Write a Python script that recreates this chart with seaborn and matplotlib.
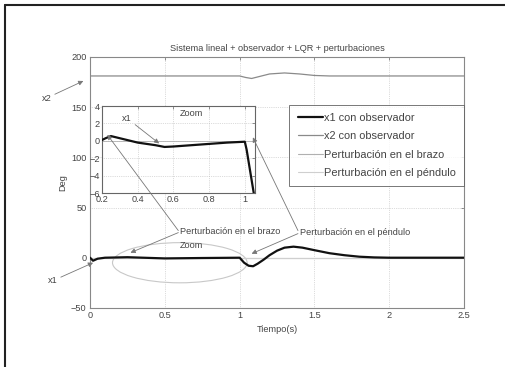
import matplotlib
matplotlib.use("Agg")
import matplotlib.pyplot as plt
import seaborn as sns
import pandas as pd
from matplotlib.patches import Ellipse, ConnectionPatch
from matplotlib.lines import Line2D

# ---- data ----
t_main = [0.0, 0.02, 0.05, 0.1, 0.25, 0.5, 0.75, 1.0, 1.03, 1.06, 1.09, 1.12,
          1.16, 1.2, 1.25, 1.3, 1.36, 1.42, 1.5, 1.6, 1.7, 1.8, 1.9, 2.0, 2.25, 2.5]
x1_main = [0.0, -3.0, -1.0, 0.0, 0.5, -0.7, -0.3, 0.0, -5.0, -8.0, -8.5, -6.0,
           -2.0, 2.5, 7.0, 10.0, 11.0, 10.0, 7.5, 4.5, 2.5, 1.0, 0.3, 0.0, 0.0, 0.0]
t_x2 = [0.0, 0.5, 1.0, 1.04, 1.08, 1.12, 1.2, 1.3, 1.4, 1.5, 1.6, 2.0, 2.5]
x2_main = [181, 181, 181, 179.5, 178.5, 180, 183, 184, 183, 181.5, 181, 181, 181]
t_pert = [0.0, 2.5]
pert_brazo = [0.0, 0.0]
pert_pendulo = [0.0, 0.0]

t_zoom = [0.2, 0.22, 0.25, 0.3, 0.4, 0.5, 0.55, 0.6, 0.7, 0.8, 0.9, 1.0,
          1.01, 1.03, 1.05]
x1_zoom = [0.1, 0.3, 0.55, 0.3, -0.2, -0.5, -0.7, -0.65, -0.5, -0.35, -0.2, -0.1,
           -1.0, -3.5, -6.0]

x_ticks = [0, 0.5, 1, 1.5, 2, 2.5]
y_ticks = [-50, 0, 50, 100, 150, 200]
xz_ticks = [0.2, 0.4, 0.6, 0.8, 1.0]
yz_ticks = [-6, -4, -2, 0, 2, 4]

title = "Sistema lineal + observador + LQR + perturbaciones"
labels = ["x1 con observador", "x2 con observador",
          "Perturbación en el brazo", "Perturbación en el péndulo"]

sns.set_style("white")
plt.rcParams["font.family"] = ["Liberation Sans", "DejaVu Sans"]
plt.rcParams["xtick.direction"] = "in"
plt.rcParams["ytick.direction"] = "in"

FS = 6.6
GRID = dict(color="#bbbbbb", linestyle=":", linewidth=0.5)
SPINE = "#888888"
TXT = "#444444"

fig = plt.figure(figsize=(5.06, 3.67), dpi=100)
fig.patch.set_facecolor("white")

ax = fig.add_axes([0.178, 0.161, 0.739, 0.684])
df1 = pd.DataFrame({"t": t_main, "v": x1_main})
df2 = pd.DataFrame({"t": t_x2, "v": x2_main})
dfb = pd.DataFrame({"t": t_pert, "v": pert_brazo})
dfp = pd.DataFrame({"t": t_pert, "v": pert_pendulo})
sns.lineplot(data=dfb, x="t", y="v", ax=ax, color="#b0b0b0", lw=0.8, label=labels[2], zorder=2)
sns.lineplot(data=dfp, x="t", y="v", ax=ax, color="#cfcfcf", lw=0.8, label=labels[3], zorder=2)
sns.lineplot(data=df2, x="t", y="v", ax=ax, color="#8a8a8a", lw=0.9, label=labels[1], zorder=3)
sns.lineplot(data=df1, x="t", y="v", ax=ax, color="#111111", lw=1.6, label=labels[0], zorder=4)

ax.set_xlim(0, 2.5)
ax.set_ylim(-50, 200)
ax.set_xticks(x_ticks)
ax.set_xticklabels(["0", "0.5", "1", "1.5", "2", "2.5"])
ax.set_yticks(y_ticks)
ax.grid(True, **GRID)
ax.tick_params(labelsize=FS, colors="#666666", labelcolor=TXT, length=2.5,
               width=0.5, top=True, right=True, pad=2.5)
for s in ax.spines.values():
    s.set_color(SPINE)
    s.set_linewidth(0.8)
ax.set_title(title, fontsize=FS, color=TXT, pad=4)
ax.set_xlabel("Tiempo(s)", fontsize=FS, color=TXT, labelpad=3)
ax.set_ylabel("Deg", fontsize=FS, color=TXT, labelpad=3)

handles, labs = ax.get_legend_handles_labels()
order = [labs.index(l) for l in labels]
leg = ax.legend([handles[i] for i in order], [labs[i] for i in order],
                loc="upper right", bbox_to_anchor=(1.0, 0.809), borderaxespad=0,
                fontsize=7.9, frameon=True, fancybox=False, handlelength=2.3,
                handletextpad=0.1, labelspacing=0.75, borderpad=0.75)
leg.get_frame().set_edgecolor("#555555")
leg.get_frame().set_linewidth(0.7)
for txt in leg.get_texts():
    txt.set_color(TXT)

# ellipse marking the zoom region
ax.add_patch(Ellipse((0.6, -5), 0.9, 40, fill=False, edgecolor="#c8c8c8", lw=0.8, zorder=1))
ax.text(0.675, 12, "Zoom", fontsize=FS, color=TXT, ha="center", va="center")

# ---- inset ----
axz = fig.add_axes([0.2016, 0.474, 0.302, 0.237])
dfz = pd.DataFrame({"t": t_zoom, "v": x1_zoom})
axz.axhline(0, color="#b0b0b0", lw=0.6, zorder=1)
sns.lineplot(data=dfz, x="t", y="v", ax=axz, color="#111111", lw=1.6, zorder=3)
axz.set_xlim(0.2, 1.056)
axz.set_ylim(-6, 4)
axz.set_xticks(xz_ticks)
axz.set_xticklabels(["0.2", "0.4", "0.6", "0.8", "1"])
axz.set_yticks(yz_ticks)
axz.set_xlabel("")
axz.set_ylabel("")
axz.grid(True, **GRID)
axz.tick_params(labelsize=FS, colors="#666666", labelcolor=TXT, length=2,
                width=0.5, top=True, right=True, pad=1.5)
for s in axz.spines.values():
    s.set_color("#666666")
    s.set_linewidth(0.8)
axz.text(0.70, 3.2, "Zoom", fontsize=FS, color=TXT, ha="center", va="center")

AP = dict(arrowstyle="-|>", color="#777777", lw=0.6, mutation_scale=7,
          shrinkA=0, shrinkB=0)
axz.annotate("x1", xy=(0.52, -0.3), xytext=(0.34, 2.6), fontsize=FS,
             color=TXT, ha="center", va="center", arrowprops=AP)

# main annotations
ax.annotate("x2", xy=(-0.045, 176), xytext=(-0.29, 159), fontsize=FS,
            color=TXT, ha="center", va="center", annotation_clip=False,
            arrowprops=AP)
ax.annotate("x1", xy=(0.02, -5), xytext=(-0.25, -23), fontsize=FS,
            color=TXT, ha="center", va="center", annotation_clip=False,
            arrowprops=AP)

# perturbation labels with two arrows each
ax.text(0.6, 26, "Perturbación en el brazo", fontsize=FS, color=TXT,
        ha="left", va="center")
ax.text(1.405, 25, "Perturbación en el péndulo", fontsize=FS, color=TXT,
        ha="left", va="center")

def arrow(xyA, axA, xyB, axB):
    cp = ConnectionPatch(xyA=xyA, coordsA=axA.transData, xyB=xyB,
                         coordsB=axB.transData, **AP)
    cp.set_zorder(10)
    fig.add_artist(cp)

arrow((0.59, 27), ax, (0.23, 0.7), axz)
arrow((0.59, 25), ax, (0.27, 5), ax)
arrow((1.39, 27), ax, (1.045, 0.4), axz)
arrow((1.39, 24), ax, (1.08, 4), ax)

# page border (top and left)
fig.add_artist(Line2D([0.01, 1.0], [0.986, 0.986], transform=fig.transFigure,
                      color="#222222", lw=1.5))
fig.add_artist(Line2D([0.01, 0.01], [0.0, 0.986], transform=fig.transFigure,
                      color="#222222", lw=1.5))

fig.savefig("out.png", dpi=100)
